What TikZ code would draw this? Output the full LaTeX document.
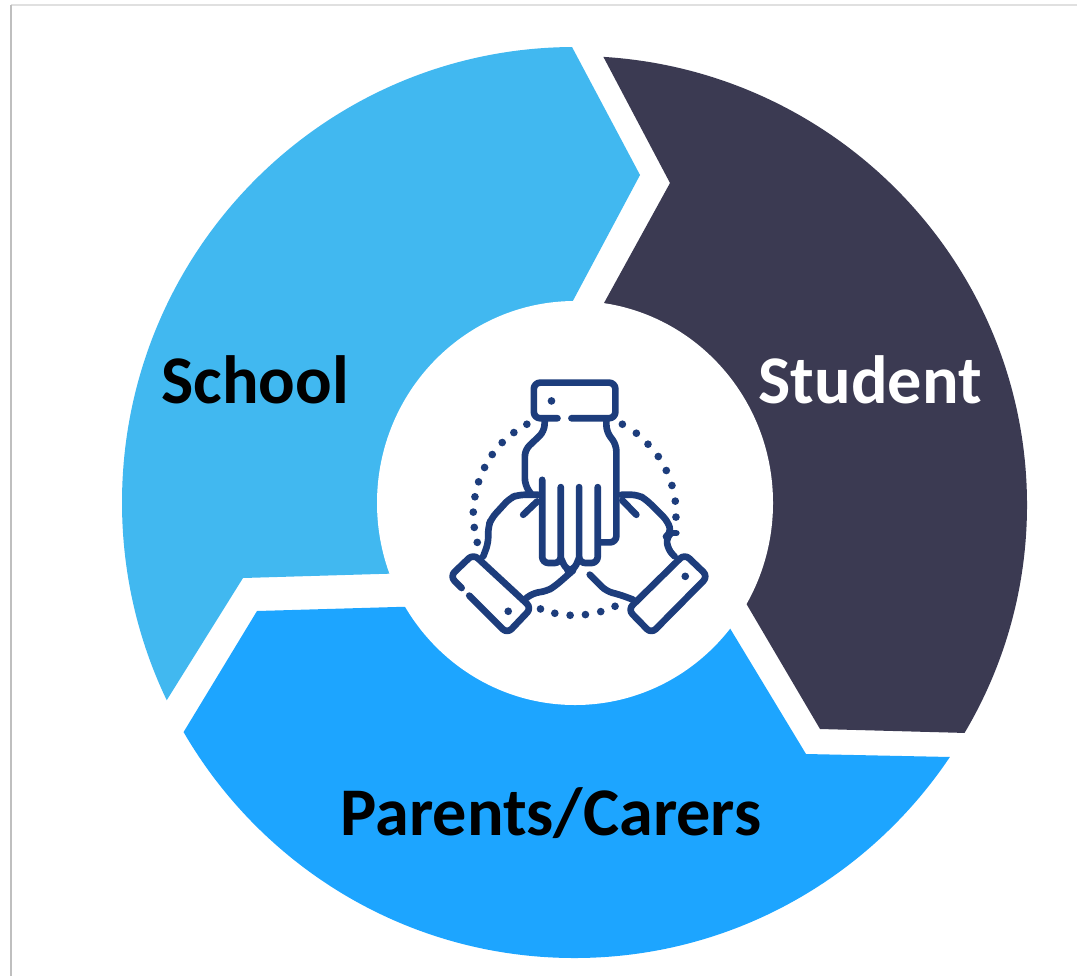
\documentclass[tikz,border=0pt]{standalone}
\usepackage{fontspec}
\setmainfont{Carlito}
\definecolor{schoolblue}{HTML}{41B8F0}
\definecolor{studentgrey}{HTML}{3B3A52}
\definecolor{parentblue}{HTML}{1DA5FF}
\definecolor{iconblue}{HTML}{1D3D7C}
\begin{document}
\begin{tikzpicture}[
    x=0.01cm, y=-0.01cm,
    segtext/.style={font=\bfseries\fontsize{19.4}{23}\selectfont, inner sep=0pt},
    icon/.style={draw=iconblue, line width=1.9pt, line cap=round, line join=round, rounded corners=1.8pt}
]
    \useasboundingbox (0,0) rectangle (1077,976);
    \fill[white] (0,0) rectangle (1077,976);

    % Rahmen
    \draw[black!12, line width=0.6pt] (11,5) -- (1077,5);
    \draw[black!25, line width=0.6pt] (11,5) -- (11,976);

    % Segmente
    \begin{scope}
        \clip (574.5,502.5) ellipse (452.5 and 455.5);
        \fill[schoolblue] (555,15) -- (640,175) -- (520,400) -- (480,571) -- (243,578) -- (140,743) -- (0,743) -- (0,15) -- cycle;
        \fill[parentblue] (951,757) -- (806,754) -- (731,630) -- (660,513) -- (500,604) -- (257,611) -- (183,733) -- (140,804) -- (140,976) -- (1077,976) -- (1077,760) -- cycle;
    \end{scope}
    \begin{scope}
        \clip (575,505) ellipse (452 and 449);
        \fill[studentgrey] (586,24) -- (670,183) -- (560,383) -- (660,457) -- (820,729) -- (967,733) -- (1077,736) -- (1077,24) -- cycle;
    \end{scope}
    \fill[white] (575,503) ellipse (198 and 202);

    % Beschriftung
    \node[segtext, text=black] (school) at (255,380) {School};
    \node[segtext, text=white] (student) at (870,380) {Student};
    \node[segtext, text=black] (parents) at (551,813) {Parents/Carers};

    % Haende
    \begin{scope}[shift={(430,360)}, x=0.00333cm, y=-0.00333cm]
        % obere Hand
        \draw[icon] (383,175) -- (312,175) -- (312,68) -- (557,68) -- (557,175) -- (425,175);
        \draw[icon] (345,180) -- (343,215) -- (285,270) -- (285,375) -- (305,405);
        \draw[icon] (530,180) -- (530,215) -- (560,255) -- (560,548) -- (510,548);
        \draw[icon] (337,360) -- (337,610) -- (393,610) -- (393,382);
        \draw[icon] (393,595) -- (410,632) -- (432,632) -- (448,595);
        \draw[icon] (448,382) -- (448,610) -- (504,610) -- (504,382);
        % linke Hand
        \draw[icon] (325,405) -- (265,405) -- (240,415) -- (185,475) -- (175,500) -- (175,550) -- (160,590);
        \draw[icon] (322,425) -- (280,465);
        \draw[icon] (290,715) -- (310,700) -- (350,695) -- (375,680) -- (430,632);
        \draw[icon] (95,685) -- (60,650) -- (130,583) -- (305,745) -- (232,822) -- (118,708);
        % rechte Hand
        \draw[icon] (575,405) -- (625,405) -- (650,420) -- (715,485) -- (725,520) -- (710,530) -- (715,570) -- (735,590);
        \draw[icon] (578,422) -- (620,465);
        \draw[icon] (725,520) -- (740,520);
        \draw[icon] (480,645) -- (530,695) -- (570,705) -- (610,720);
        \draw[icon] (765,583) -- (835,650) -- (665,822) -- (595,750) -- cycle;
        % Punkte
        \foreach \px/\py in {365/123, 235/755, 767/650,
            291/193, 252/218, 217/248, 187/284, 164/323, 146/366, 135/411, 130/457, 133/503, 142/548,
            578/193, 620/220, 655/253, 686/290, 710/332, 727/377, 737/424, 739/472,
            332/748, 375/761, 421/767, 467/765, 513/756, 556/740}
            \fill[iconblue] (\px,\py) circle (11.5);
    \end{scope}
\end{tikzpicture}
\end{document}
